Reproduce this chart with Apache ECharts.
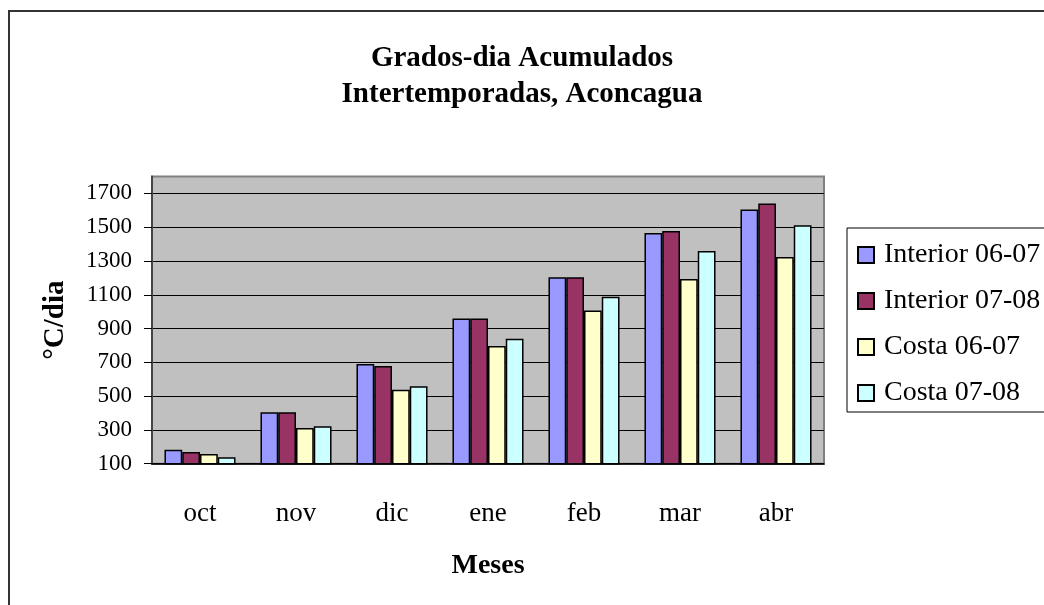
<!DOCTYPE html>
<html>
<head>
<meta charset="utf-8">
<script src="https://cdn.jsdelivr.net/npm/echarts@6/dist/echarts.min.js"></script>
<style>
  html, body { margin: 0; padding: 0; background: #fff; }
  #chart { width: 1044px; height: 605px; }
</style>
</head>
<body>
<div id="chart"></div>
<script>
const months = ['oct', 'nov', 'dic', 'ene', 'feb', 'mar', 'abr']
const interior0607 = [182, 405, 690, 960, 1203, 1465, 1605]
const interior0708 = [169, 405, 678, 960, 1203, 1477, 1640]
const costa0607 = [157, 312, 537, 796, 1007, 1194, 1324]
const costa0708 = [138, 322, 558, 840, 1088, 1359, 1512]
const yTicks = [100, 300, 500, 700, 900, 1100, 1300, 1500, 1700]

const font = 'Liberation Serif, Times New Roman, serif'

const bar = (name, data, color) => ({
  name,
  type: 'bar',
  data,
  barGap: '0%',
  barCategoryGap: '26%',
  itemStyle: { color, borderColor: '#000', borderWidth: 1.5 }
})

const chart = echarts.init(document.getElementById('chart'))
chart.setOption({
  animation: false,
  title: {
    text: 'Grados-dia Acumulados\nIntertemporadas, Aconcagua',
    left: 'center',
    top: 36,
    textStyle: { fontFamily: font, fontWeight: 'bold', fontSize: 29, lineHeight: 36, color: '#000' }
  },
  graphic: [{
    type: 'rect',
    shape: { x: 9, y: 11, width: 1100, height: 700 },
    style: { fill: 'none', stroke: '#333', lineWidth: 2 }
  }],
  legend: {
    orient: 'vertical',
    left: 847,
    top: 228,
    padding: [13, 30, 5, 10],
    itemWidth: 16,
    itemHeight: 16,
    itemGap: 18,
    icon: 'rect',
    borderColor: '#000',
    borderWidth: 1,
    textStyle: { fontFamily: font, fontSize: 28, lineHeight: 28, color: '#000', padding: [0, 0, 0, 5] }
  },
  grid: {
    left: 152,
    right: 220,
    top: 176.5,
    bottom: 141.3,
    show: true,
    backgroundColor: '#C0C0C0',
    borderColor: '#808080',
    borderWidth: 2
  },
  xAxis: {
    type: 'category',
    data: months,
    name: 'Meses',
    nameLocation: 'middle',
    nameGap: 88,
    nameTextStyle: { fontFamily: font, fontWeight: 'bold', fontSize: 28, color: '#000' },
    axisLine: { lineStyle: { color: '#000', width: 1.5 } },
    axisTick: { length: 8, lineStyle: { color: '#000', width: 1 } },
    axisLabel: { fontFamily: font, fontSize: 27, color: '#000', margin: 37 }
  },
  yAxis: {
    type: 'value',
    min: 100,
    max: 1800,
    interval: 200,
    name: '°C/dia',
    nameLocation: 'middle',
    nameGap: 82,
    nameTextStyle: { fontFamily: font, fontWeight: 'bold', fontSize: 29, color: '#000' },
    axisLine: { show: true, lineStyle: { color: '#444', width: 2 } },
    axisTick: { show: true, length: 8, customValues: yTicks, lineStyle: { color: '#000', width: 1 } },
    axisLabel: {
      fontFamily: font,
      fontSize: 23,
      color: '#000',
      margin: 20,
      customValues: yTicks,
      formatter: v => String(v)
    },
    splitLine: { lineStyle: { color: '#000', width: 1 } }
  },
  series: [
    bar('Interior 06-07', interior0607, '#9999FF'),
    bar('Interior 07-08', interior0708, '#993366'),
    bar('Costa 06-07', costa0607, '#FFFFCC'),
    bar('Costa 07-08', costa0708, '#CCFFFF')
  ]
})
</script>
</body>
</html>
